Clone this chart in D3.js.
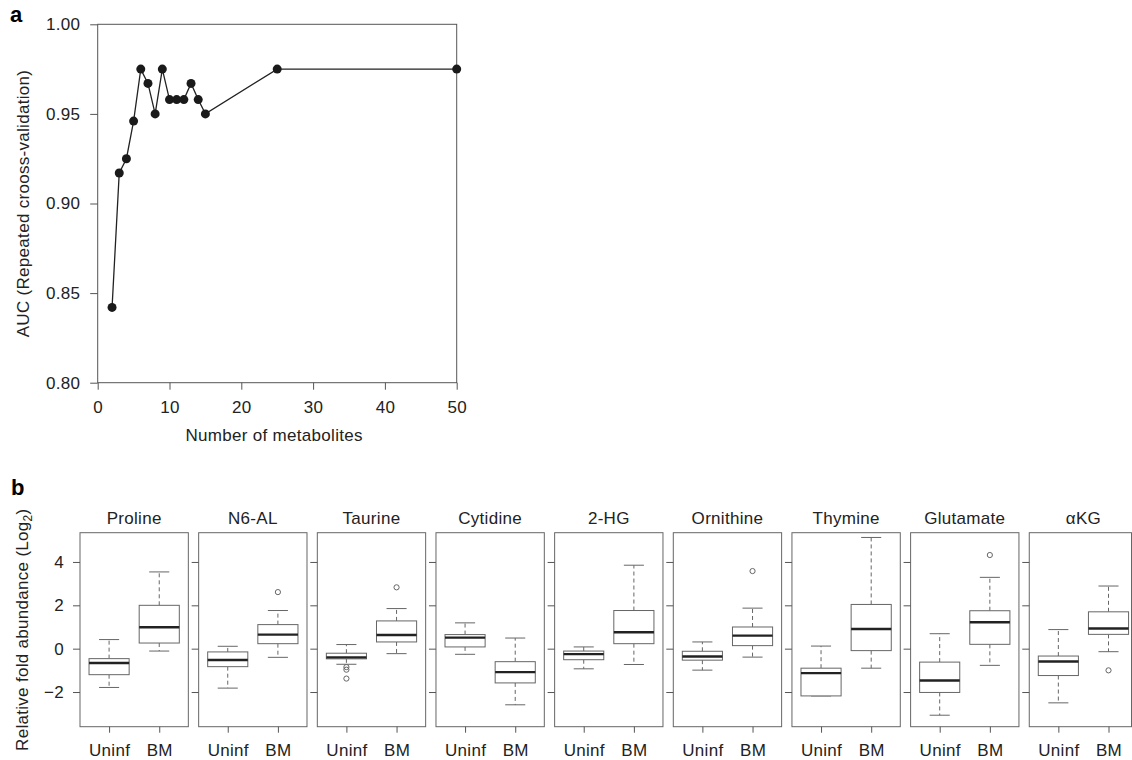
<!DOCTYPE html>
<html>
<head>
<meta charset="utf-8">
<script src="https://cdn.jsdelivr.net/npm/d3@7"></script>
<style>
  body { margin: 0; background: #fff; }
  svg { display: block; font-family: "Liberation Sans", Arial, sans-serif; }
  .axis text { font-size: 17px; fill: #222; letter-spacing: 0.3px; }
  .axis line, .axis path { stroke: #555; }
  .lbl { font-size: 17px; fill: #222; letter-spacing: 0.3px; }
</style>
</head>
<body>
<div id="chart"></div>
<script>
// ---- panel a data ----
var nMetabolites = [2, 3, 4, 5, 6, 7, 8, 9, 10, 11, 12, 13, 14, 15, 25, 50];
var aucValues = [0.842, 0.917, 0.925, 0.946, 0.975, 0.967, 0.950, 0.975, 0.958, 0.958, 0.958, 0.967, 0.958, 0.950, 0.975, 0.975];
var aucTicks = [0.80, 0.85, 0.90, 0.95, 1.00];
var nTicks = [0, 10, 20, 30, 40, 50];

// ---- panel b data ----
var metabolites = ["Proline", "N6-AL", "Taurine", "Cytidine", "2-HG", "Ornithine", "Thymine", "Glutamate", "\u03b1KG"];
var groups = ["Uninf", "BM"];
// [lower whisker, q1, median, q3, upper whisker]
var uninfBox = [
  [-1.79, -1.20, -0.66, -0.46, 0.42],
  [-1.82, -0.83, -0.52, -0.15, 0.11],
  [-0.72, -0.47, -0.40, -0.21, 0.19],
  [-0.26, 0.08, 0.51, 0.65, 1.19],
  [-0.93, -0.51, -0.25, -0.11, 0.08],
  [-0.99, -0.53, -0.36, -0.12, 0.31],
  [-2.18, -2.18, -1.13, -0.90, 0.12],
  [-3.07, -2.02, -1.47, -0.62, 0.69],
  [-2.50, -1.24, -0.59, -0.34, 0.88]
];
var bmBox = [
  [-0.11, 0.26, 0.99, 2.00, 3.54],
  [-0.40, 0.23, 0.65, 1.11, 1.76],
  [-0.23, 0.31, 0.63, 1.28, 1.85],
  [-2.59, -1.58, -1.08, -0.60, 0.49],
  [-0.73, 0.23, 0.76, 1.76, 3.85],
  [-0.39, 0.14, 0.60, 1.00, 1.87],
  [-0.90, -0.09, 0.91, 2.04, 5.13],
  [-0.77, 0.20, 1.22, 1.75, 3.29],
  [-0.14, 0.66, 0.93, 1.70, 2.89]
];
var uninfOutliers = [[], [], [-0.85, -0.97, -1.38], [], [], [], [], [], []];
var bmOutliers = [[], [2.61], [2.83], [], [], [3.58], [], [4.32], [-1.00]];
var foldTicks = [-2, 0, 2, 4];

var W = 1132, H = 760;
var svg = d3.select("#chart").append("svg")
  .attr("width", W)
  .attr("height", H);

// ================= panel a =================
var ax = d3.scaleLinear().domain([0, 50]).range([97.7, 456.7]);
var ay = d3.scaleLinear().domain([0.80, 1.00]).range([382.7, 24.3]);

svg.append("text")
  .attr("x", 10).attr("y", 22)
  .style("font-size", "22px").style("font-weight", "bold")
  .text("a");

// frame
svg.append("rect")
  .attr("x", ax(0)).attr("y", ay(1.0))
  .attr("width", ax(50) - ax(0)).attr("height", ay(0.8) - ay(1.0))
  .attr("fill", "none").attr("stroke", "#555").attr("stroke-width", 1);

svg.append("g")
  .attr("class", "axis")
  .attr("transform", "translate(" + ax(0) + ",0)")
  .call(d3.axisLeft(ay).tickValues(aucTicks).tickFormat(d3.format(".2f")).tickSize(7.5).tickPadding(10))
  .call(function(g) { g.select(".domain").remove(); });

svg.append("g")
  .attr("class", "axis")
  .attr("transform", "translate(0," + ay(0.8) + ")")
  .call(d3.axisBottom(ax).tickValues(nTicks).tickFormat(d3.format("d")).tickSize(7).tickPadding(11.7))
  .call(function(g) { g.select(".domain").remove(); });

svg.append("text")
  .attr("class", "lbl")
  .attr("transform", "translate(29," + ((ay(0.8) + ay(1.0)) / 2) + ") rotate(-90)")
  .attr("text-anchor", "middle")
  .text("AUC (Repeated crooss-validation)");

svg.append("text")
  .attr("class", "lbl")
  .attr("x", (ax(0) + ax(50)) / 2 - 3).attr("y", 441)
  .attr("text-anchor", "middle")
  .text("Number of metabolites");

var line = d3.line()
  .x(function(d, i) { return ax(nMetabolites[i]); })
  .y(function(d) { return ay(d); });

svg.append("path")
  .datum(aucValues)
  .attr("d", line)
  .attr("fill", "none").attr("stroke", "#222").attr("stroke-width", 1.3);

svg.selectAll(".pt")
  .data(aucValues)
  .enter().append("circle")
  .attr("class", "pt")
  .attr("cx", function(d, i) { return ax(nMetabolites[i]); })
  .attr("cy", function(d) { return ay(d); })
  .attr("r", 4.5)
  .attr("fill", "#1a1a1a");

// ================= panel b =================
svg.append("text")
  .attr("x", 11).attr("y", 495)
  .style("font-size", "22px").style("font-weight", "bold")
  .text("b");

var panelX = d3.scaleBand().domain(metabolites).range([80, 1137.6]).paddingInner(0.087);
var by = d3.scaleLinear().domain([-3.6, 5.35]).range([726.7, 532.7]);
var bw = panelX.bandwidth();
var gx = d3.scaleLinear().domain([0.42, 2.58]).range([0, bw]);
var halfBox = gx(1.4) - gx(1.0);
var halfCap = gx(1.2) - gx(1.0);

var lab = svg.append("text")
  .attr("class", "lbl")
  .attr("transform", "translate(28," + ((by(-3.6) + by(5.35)) / 2) + ") rotate(-90)")
  .attr("text-anchor", "middle");
lab.append("tspan").text("Relative fold abundance (Log");
lab.append("tspan").attr("dy", 4).style("font-size", "12px").text("2");
lab.append("tspan").attr("dy", -4).text(")");

metabolites.forEach(function(name, mi) {
  var x0 = panelX(name);
  var p = svg.append("g").attr("transform", "translate(" + x0 + ",0)");

  p.append("text")
    .attr("class", "lbl")
    .attr("x", bw / 2).attr("y", 524)
    .attr("text-anchor", "middle")
    .text(name);

  // frame (last panel is cut by the page edge)
  var fw = Math.min(bw, W - 0.5 - x0);
  p.append("rect")
    .attr("x", 0).attr("y", by(5.35))
    .attr("width", fw).attr("height", by(-3.6) - by(5.35))
    .attr("fill", "none").attr("stroke", "#666").attr("stroke-width", 1);

  var yAxis = d3.axisLeft(by).tickValues(foldTicks).tickSize(7).tickPadding(9)
    .tickFormat(mi === 0 ? function(d) { return d < 0 ? "\u2212" + Math.abs(d) : d; } : "");
  p.append("g").attr("class", "axis").call(yAxis)
    .call(function(g) { g.select(".domain").remove(); });

  var xAxis = d3.axisBottom(gx).tickValues([1, 2]).tickSize(6).tickPadding(11.7)
    .tickFormat(function(d) { return groups[d - 1]; });
  p.append("g").attr("class", "axis")
    .attr("transform", "translate(0," + by(-3.6) + ")")
    .call(xAxis)
    .call(function(g) { g.select(".domain").remove(); });

  [uninfBox[mi], bmBox[mi]].forEach(function(s, gi) {
    var cx = gx(gi + 1);
    var b = p.append("g");
    // whiskers
    b.append("line").attr("x1", cx).attr("x2", cx).attr("y1", by(s[3])).attr("y2", by(s[4]))
      .attr("stroke", "#666").attr("stroke-dasharray", "4,3");
    b.append("line").attr("x1", cx).attr("x2", cx).attr("y1", by(s[1])).attr("y2", by(s[0]))
      .attr("stroke", "#666").attr("stroke-dasharray", "4,3");
    // caps
    [s[0], s[4]].forEach(function(v) {
      b.append("line").attr("x1", cx - halfCap).attr("x2", cx + halfCap)
        .attr("y1", by(v)).attr("y2", by(v)).attr("stroke", "#666");
    });
    // box
    b.append("rect")
      .attr("x", cx - halfBox).attr("y", by(s[3]))
      .attr("width", 2 * halfBox).attr("height", by(s[1]) - by(s[3]))
      .attr("fill", "#fff").attr("stroke", "#666");
    // median
    b.append("line").attr("x1", cx - halfBox).attr("x2", cx + halfBox)
      .attr("y1", by(s[2])).attr("y2", by(s[2]))
      .attr("stroke", "#222").attr("stroke-width", 2.4);
    // outliers
    var outs = gi === 0 ? uninfOutliers[mi] : bmOutliers[mi];
    b.selectAll("circle").data(outs).enter().append("circle")
      .attr("cx", cx).attr("cy", function(d) { return by(d); })
      .attr("r", 2.6).attr("fill", "none").attr("stroke", "#666");
  });
});
</script>
</body>
</html>
